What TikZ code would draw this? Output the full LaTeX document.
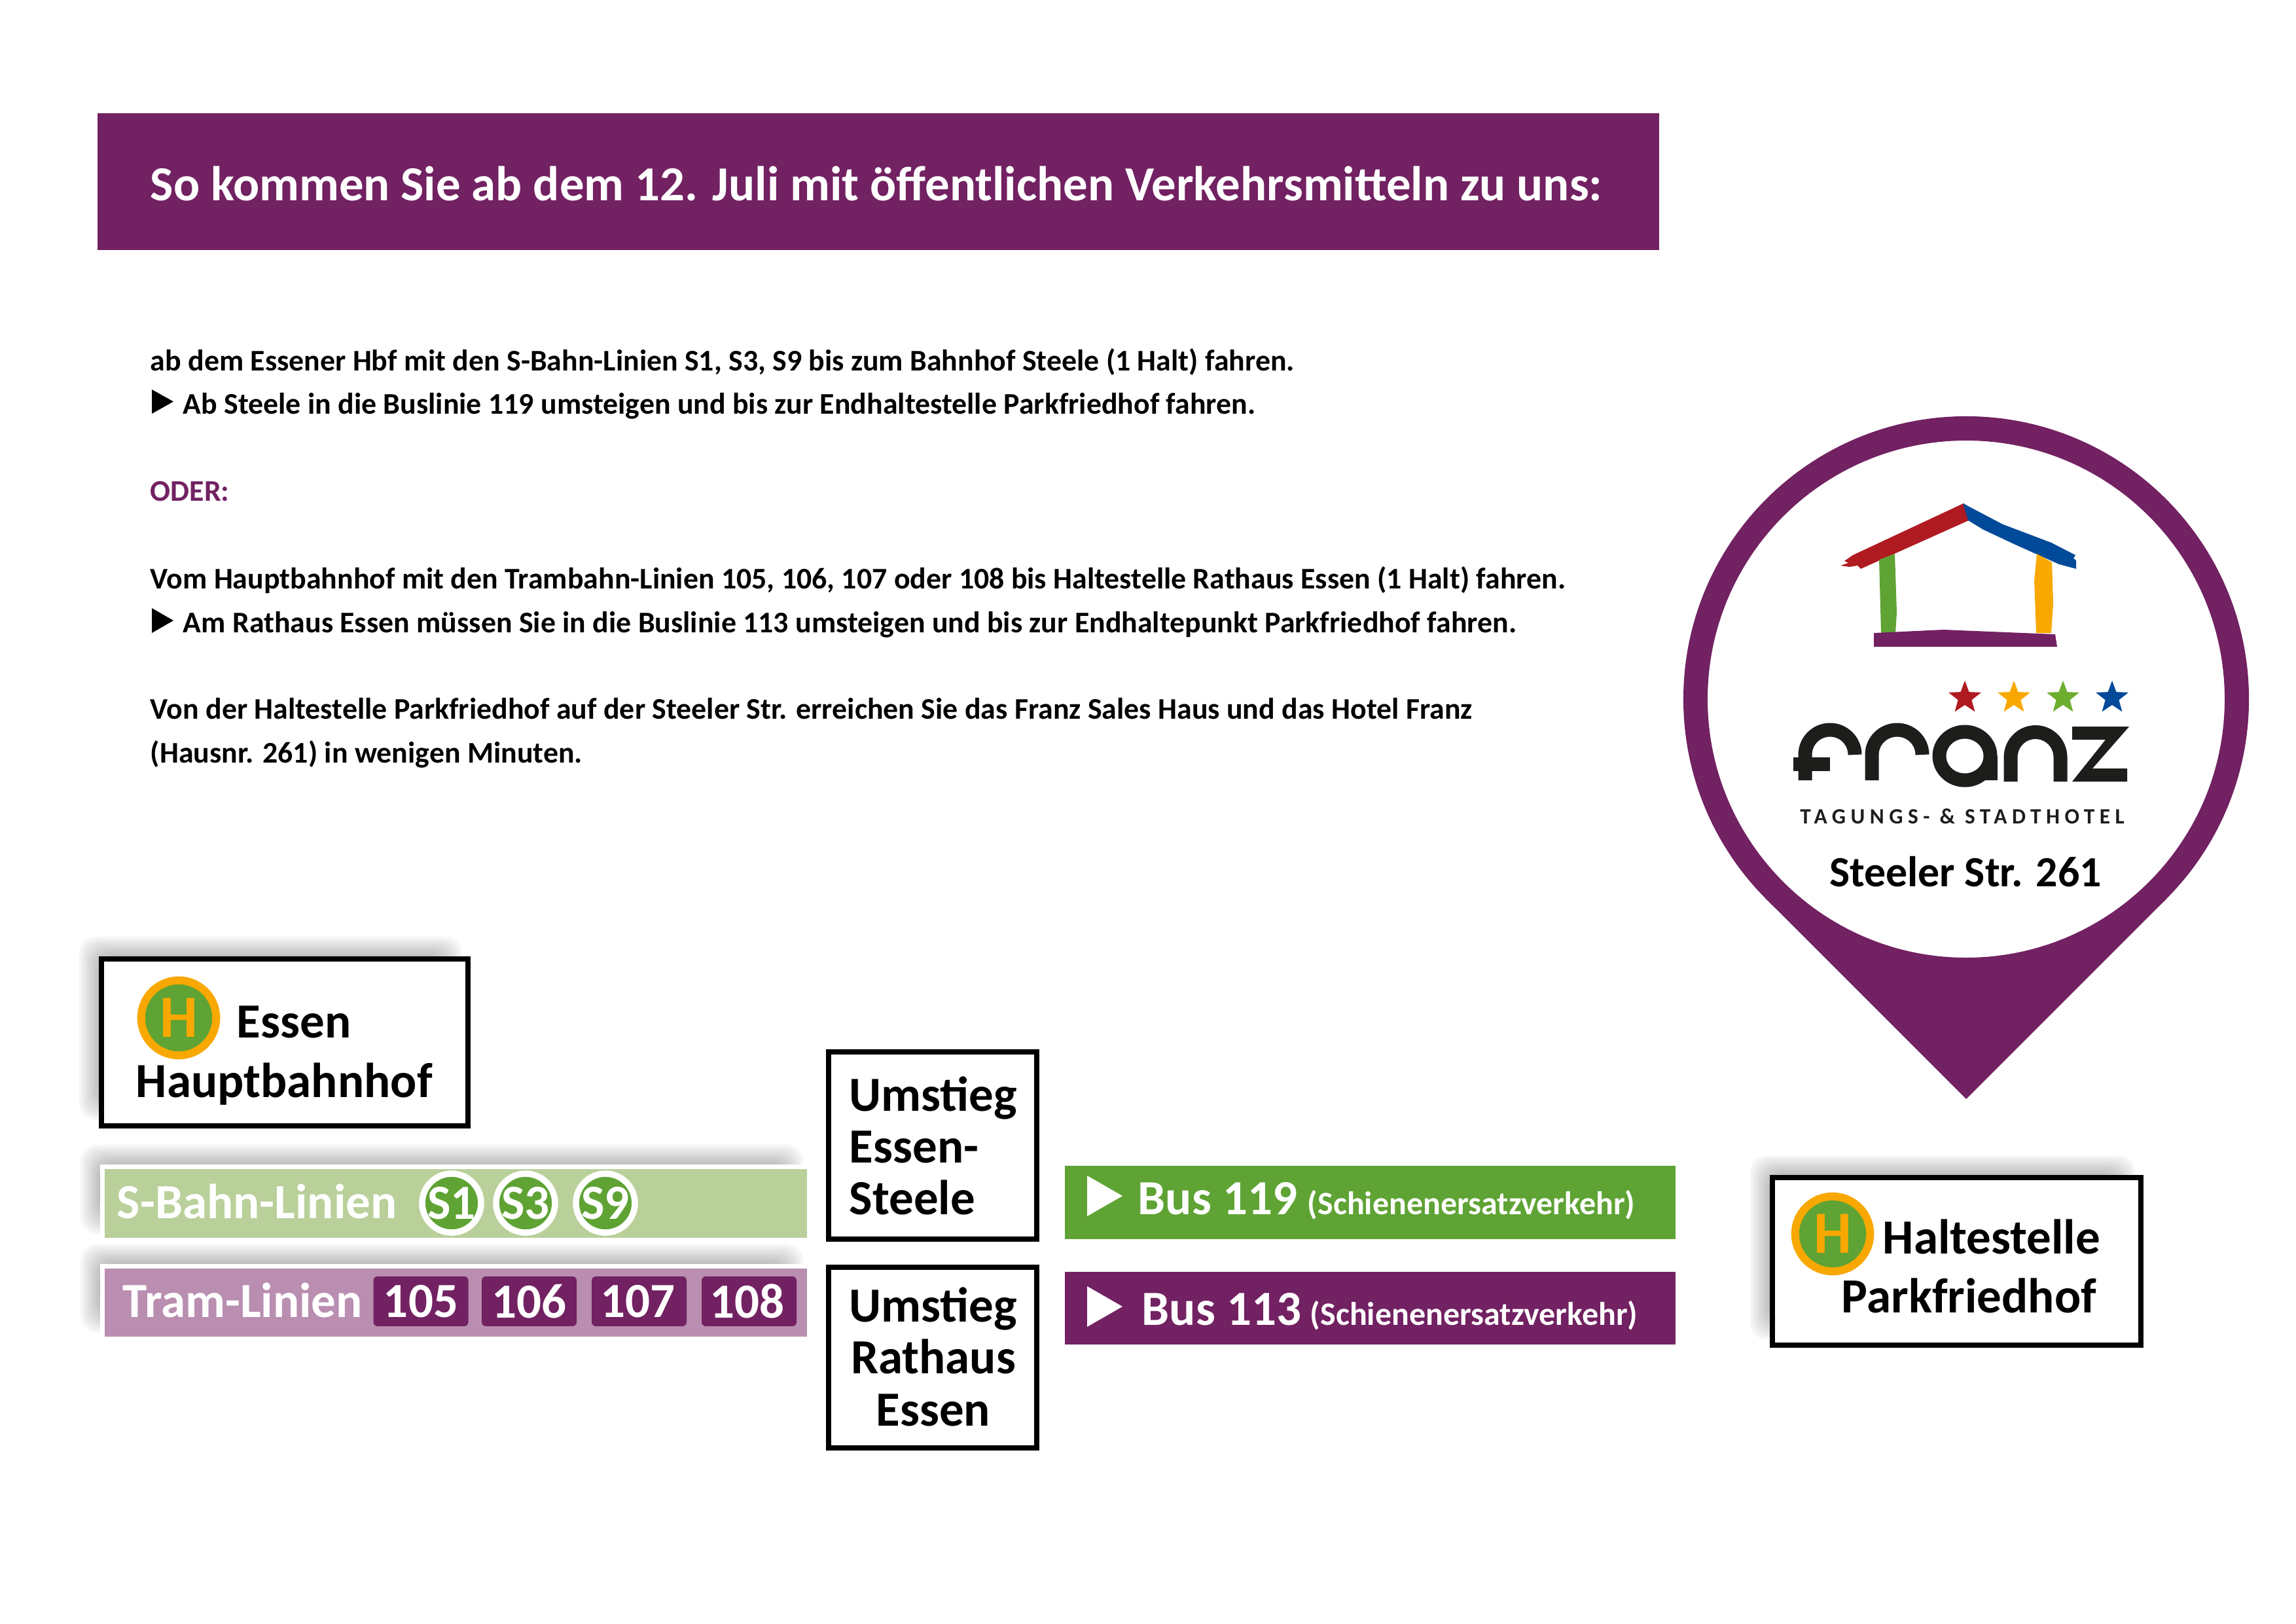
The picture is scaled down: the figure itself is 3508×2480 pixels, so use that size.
\documentclass[tikz,border=0pt]{standalone}
\usepackage{fontspec}
\setmainfont{Carlito}
\usetikzlibrary{shapes.geometric,backgrounds}
\definecolor{franzpurple}{HTML}{722162}
\definecolor{franzgreen}{HTML}{5EA334}
\definecolor{franzorange}{HTML}{F8A800}
\definecolor{palegreen}{HTML}{B9D09A}
\definecolor{palepurple}{HTML}{B98EB0}
\definecolor{logored}{HTML}{B01A21}
\definecolor{logoblue}{HTML}{004A99}
\definecolor{logolime}{HTML}{6EAE2E}
\definecolor{logoblack}{HTML}{1D1D1B}
% blurred shadow, up and to the left of a node
\newcommand{\softshadow}[1]{%
  \foreach \g in {0,...,7}{%
    \fill[black,opacity=.035,rounded corners=6pt]
    ([shift={(-2-4*\g,-2-4*\g)}]#1.north west) rectangle ([shift={(-41+4*\g,-41+4*\g)}]#1.south east);}}

\begin{document}
\begin{tikzpicture}[x=0.24pt,y=-0.24pt,
boxsize/.style 2 args={minimum width=#1*0.24pt,minimum height=#2*0.24pt},
txt/.style={anchor=base west,inner sep=0pt},
body/.style={txt,font=\fontsize{11}{16}\selectfont\bfseries},
sign/.style={txt,font=\fontsize{18}{22}\selectfont\bfseries},
signc/.style={sign,anchor=base},
pale/.style={sign,text=white},
small/.style={txt,text=white,font=\fontsize{12}{14}\selectfont\bfseries},
stopbox/.style={draw=black,fill=white,line width=1.92pt,inner sep=0pt},
linebar/.style={draw=white,line width=1.68pt,inner sep=0pt},
busbar/.style={inner sep=0pt},
stopmark/.style={circle,fill=franzgreen,draw=franzorange,line width=2.9pt,inner sep=0pt,
  minimum size=27.5pt,text=franzorange,font=\fontsize{22}{22}\selectfont\bfseries},
sline/.style={circle,fill=franzgreen,draw=white,line width=2.3pt,inner sep=0pt,
  minimum size=21.6pt,text=white,font=\fontsize{18}{18}\selectfont\bfseries},
chip/.style={fill=franzpurple,rounded corners=1.5pt,inner sep=0pt,boxsize={145}{76},
  text=white,font=\fontsize{18}{18}\selectfont\bfseries},
brush/.style={line width=5.04pt,draw=logoblack},
]
\useasboundingbox (0,0) rectangle (3508,2480);

% heading
\node[fill=franzpurple,inner sep=0pt,boxsize={2386}{209}] (title) at (1342,277.5) {};
\node[txt,text=white,font=\fontsize{17.95}{22}\selectfont\bfseries] (titletext) at (229,306)
{So kommen Sie ab dem 12. Juli mit öffentlichen Verkehrsmitteln zu uns:};

% directions
\node[body] (l1) at (229,566) {ab dem Essener Hbf mit den S-Bahn-Linien S1, S3, S9 bis zum Bahnhof Steele (1 Halt) fahren.};
\node[body] (l2) at (279,632) {Ab Steele in die Buslinie 119 umsteigen und bis zur Endhaltestelle Parkfriedhof fahren.};
\node[body,text=franzpurple] (l3) at (229,765) {ODER:};
\node[body] (l4) at (229,899) {Vom Hauptbahnhof mit den Trambahn-Linien 105, 106, 107 oder 108 bis Haltestelle Rathaus Essen (1 Halt) fahren.};
\node[body] (l5) at (279,966) {Am Rathaus Essen müssen Sie in die Buslinie 113 umsteigen und bis zur Endhaltepunkt Parkfriedhof fahren.};
\node[body] (l6) at (229,1098) {Von der Haltestelle Parkfriedhof auf der Steeler Str. erreichen Sie das Franz Sales Haus und das Hotel Franz};
\node[body] (l7) at (229,1165) {(Hausnr. 261) in wenigen Minuten.};
\fill (232,595) -- (265,613.5) -- (232,632) -- cycle;
\fill (232,929) -- (265,948) -- (232,967) -- cycle;

% pin with the logo
\coordinate (pintip) at (3004,1679);
\fill[franzpurple] (pintip) -- (2698,1373) -- (3310,1373) -- cycle;
\node[circle,draw=franzpurple,fill=white,line width=8.9pt,inner sep=0pt,minimum size=198.5pt] (pin) at (3004,1068) {};
\fill[logored] (2812,864) -- (2824,860) -- (2818,857) -- (2831,848) -- (3000,769) -- (3008,774) -- (3008,795) -- (2843,869) -- (2838,864) -- (2826,866) -- cycle;
\fill[logoblue] (2999,769) -- (3060,801) -- (3134,829) -- (3171,848) -- (3168,853) -- (3172,856) -- (3172,869) -- (3146,862) -- (3079,832) -- (3030,809) -- (3007,795) -- cycle;
\fill[franzgreen] (2871,855) -- (2895,846) -- (2898,936) -- (2896,967) -- (2874,967) -- cycle;
\fill[franzorange] (3112,846) -- (3135,859) -- (3137,922) -- (3134,967) -- (3111,967) -- (3108,887) -- cycle;
\fill[franzpurple] (2863,967) -- (2969,962) -- (3140,969) -- (3143,988) -- (3030,988) -- (2863,988) -- cycle;
\foreach \c/\x/\n in {logored/3002/1,franzorange/3077/2,logolime/3152/3,logoblue/3227/4}
  \node[star,star points=5,star point ratio=2.4,fill=\c,inner sep=0pt,minimum size=12.6pt] (star\n) at (\x,1066) {};
% f r a n z
\draw[brush] (2758,1192) -- (2758,1153) to[out=90,in=180] (2796,1115) to[out=0,in=90] (2834,1153);
\fill[logoblack] (2740,1157) rectangle (2796,1178);
\draw[brush] (2860,1192) -- (2860,1153) to[out=90,in=180] (2898.5,1115) to[out=0,in=90] (2937,1153);
\draw[brush] (3002,1155) ellipse [x radius=39,y radius=37];
\draw[brush] (3041,1155) -- (3041,1192);
\draw[brush] (3072,1194) -- (3072,1157) to[out=90,in=180] (3110,1118.5) to[out=0,in=90] (3148,1157) -- (3148,1194);
\fill[logoblack] (3166,1110) -- (3253,1110) -- (3197,1174) -- (3250,1174) -- (3250,1194) -- (3166,1194) -- (3217,1130) -- (3166,1130) -- cycle;
\node[anchor=base,inner sep=0pt,text=logoblack,font=\fontsize{8}{8}\selectfont\bfseries\addfontfeature{LetterSpace=22.5}] (tagline) at (2998,1258) {TAGUNGS- \& STADTHOTEL};
\node[signc,font=\fontsize{15.8}{20}\selectfont\bfseries] (street) at (3003,1354) {Steeler Str. 261};

% start stop
\node[stopbox,boxsize={560}{255}] (hbf) at (435,1592.5) {};
\node[stopmark] (hbfmark) at (273,1555) {H};
\node[sign] (hbfa) at (361,1585) {Essen};
\node[sign] (hbfb) at (207,1676) {Hauptbahnhof};

% lines from the main station
\node[linebar,fill=palegreen,boxsize={1080}{112}] (sbahn) at (696.5,1838) {};
\node[pale] (sbahntext) at (178,1861) {S-Bahn-Linien};
\foreach \x/\n in {690/1,803/3,925/9}
  \node[sline] (s\n) at (\x,1838) {S\n};
\node[linebar,fill=palepurple,boxsize={1080}{111}] (tram) at (696.5,1989.5) {};
\node[pale] (tramtext) at (187,2012) {Tram-Linien};
\foreach \x/\n/\k in {643/105/0,808.5/106/0,976.5/107/1,1144.5/108/1.4}
  \node[chip] (t\n) at (\x,1988) {\n\kern\k pt};

% changes
\node[stopbox,boxsize={318}{286}] (steele) at (1425,1750) {};
\node[sign] (steelea) at (1297,1697) {Umstieg};
\node[sign] (steeleb) at (1297,1776) {Essen-};
\node[sign] (steelec) at (1297,1855) {Steele};
\node[stopbox,boxsize={318}{276}] (rathaus) at (1425,2074) {};
\node[signc] (rathausa) at (1426,2019) {Umstieg};
\node[signc] (rathausb) at (1426,2098) {Rathaus};
\node[signc] (rathausc) at (1426,2178) {Essen};

% buses
\node[busbar,fill=franzgreen,boxsize={933}{112}] (bus119) at (2093.5,1837) {};
\fill[white] (1661,1796) -- (1715,1827) -- (1661,1858) -- cycle;
\node[pale] (bus119a) at (1738,1855) {Bus 119};
\node[small] (bus119b) at (1997,1855) {(Schienenersatzverkehr)};
\node[busbar,fill=franzpurple,boxsize={933}{111}] (bus113) at (2093.5,1998.5) {};
\fill[white] (1661,1965) -- (1715,1996) -- (1661,2027) -- cycle;
\node[pale] (bus113a) at (1744,2024) {Bus 113};
\node[small] (bus113b) at (2001,2024) {(Schienenersatzverkehr)};

% destination
\node[stopbox,boxsize={563}{256}] (park) at (2989.5,1927) {};
\node[stopmark] (parkmark) at (2800,1885) {H};
\node[sign] (parka) at (2876,1915) {Haltestelle};
\node[sign] (parkb) at (2813,2005) {Parkfriedhof};

\begin{scope}[on background layer]
\foreach \b in {hbf,sbahn,tram,park}
  \softshadow{\b};
\end{scope}
\end{tikzpicture}
\end{document}
